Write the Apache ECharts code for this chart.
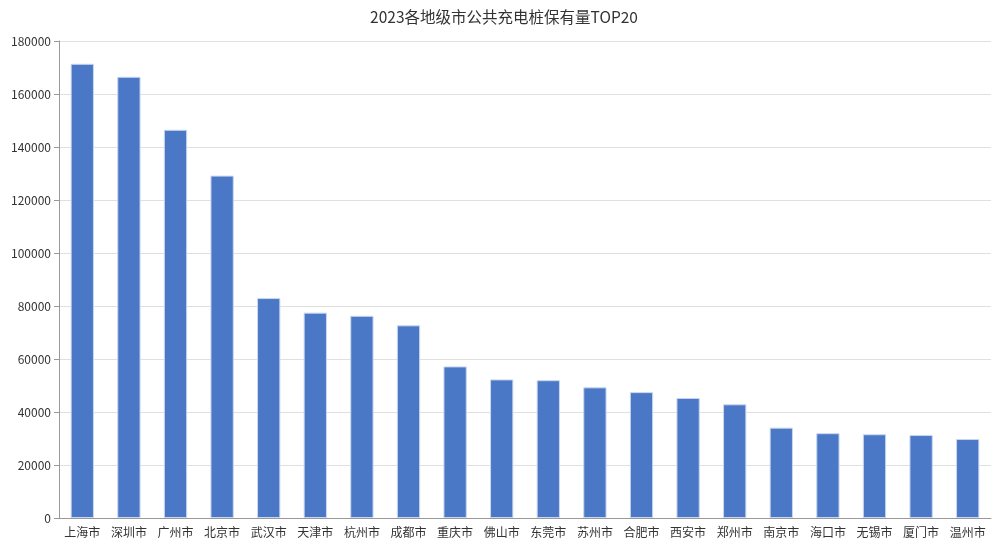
<!DOCTYPE html>
<html>
<head>
<meta charset="utf-8">
<script src="https://cdn.jsdelivr.net/npm/echarts@6/dist/echarts.min.js"></script>
<style>html,body{margin:0;padding:0;background:#fff;}#c{width:1008px;height:555px;}</style>
</head>
<body>
<div id="c"></div>
<script>
const titleText = '2023各地级市公共充电桩保有量TOP20';
const cities = ['上海市','深圳市','广州市','北京市','武汉市','天津市','杭州市','成都市','重庆市','佛山市','东莞市','苏州市','合肥市','西安市','郑州市','南京市','海口市','无锡市','厦门市','温州市'];
const counts = [171400,166500,146500,129200,83000,77500,76300,72700,57200,52300,52000,49300,47500,45300,42900,34100,32000,31600,31300,29800];
const yTicks = {min:0, max:180000, interval:20000};

const chart = echarts.init(document.getElementById('c'));
const font = '"Microsoft YaHei","Noto Sans CJK SC",sans-serif';
chart.setOption({
  animation:false,
  title:{text:titleText,left:'center',top:4,textStyle:{fontSize:15.5,fontWeight:'normal',color:'#333',fontFamily:font}},
  grid:{left:59,right:17,top:41,bottom:37},
  xAxis:{type:'category',data:cities,
    axisLine:{lineStyle:{color:'#999'}},
    axisTick:{alignWithLabel:true,lineStyle:{color:'#999'}},
    axisLabel:{color:'#333',fontSize:12,interval:0,fontFamily:font,margin:8}},
  yAxis:{type:'value',min:yTicks.min,max:yTicks.max,interval:yTicks.interval,
    axisLine:{show:true,lineStyle:{color:'#999'}},
    axisTick:{show:true,lineStyle:{color:'#999'}},
    axisLabel:{color:'#333',fontSize:12,fontFamily:font,formatter:function(v){return String(v);}},
    splitLine:{lineStyle:{color:'#e0e0e0'}}},
  series:[{type:'bar',data:counts,barWidth:'50%',
    itemStyle:{color:'#4a78c6',borderColor:'#c9d7f0',borderWidth:1}}]
});
</script>
</body>
</html>
